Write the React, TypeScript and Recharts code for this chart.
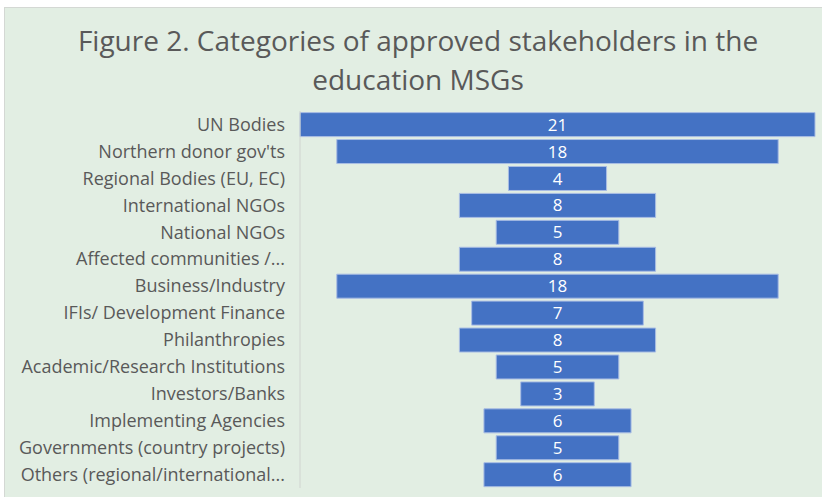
import { BarChart, Bar, XAxis, YAxis, LabelList } from 'recharts';

const categories = [
  'UN Bodies',
  "Northern donor gov'ts",
  'Regional Bodies (EU, EC)',
  'International NGOs',
  'National NGOs',
  'Affected communities /...',
  'Business/Industry',
  'IFIs/ Development Finance',
  'Philanthropies',
  'Academic/Research Institutions',
  'Investors/Banks',
  'Implementing Agencies',
  'Governments (country projects)',
  'Others (regional/international...',
];

const counts = [21, 18, 4, 8, 5, 8, 18, 7, 8, 5, 3, 6, 5, 6];

const maxCount = Math.max(...counts);

// funnel look: an invisible spacer bar pushes each bar to the middle
const data = categories.map((name, i) => ({
  name,
  pad: (maxCount - counts[i]) / 2,
  value: counts[i],
}));

const font = '"Open Sans", "Noto Sans", sans-serif';

export default function App() {
  return (
    <div
      style={{
        position: 'absolute',
        left: 4,
        top: 7,
        width: 818,
        height: 489,
        background: '#e2eee3',
        borderLeft: '1px solid #d4d8d4',
        borderTop: '1px solid #d4d8d4',
        fontFamily: font,
      }}
    >
      <div
        style={{
          position: 'absolute',
          left: 0,
          top: 13,
          width: 826,
          textAlign: 'center',
          fontSize: 28,
          lineHeight: '39px',
          color: '#595959',
        }}
      >
        Figure 2. Categories of approved stakeholders in the
        <br />
        education MSGs
      </div>
      <BarChart
        width={817}
        height={488}
        data={data}
        layout="vertical"
        margin={{ top: 103, right: 7, bottom: 8, left: 0 }}
        barCategoryGap="6%"
      >
        <XAxis type="number" domain={[0, maxCount]} hide />
        <YAxis
          type="category"
          dataKey="name"
          width={295}
          axisLine={{ stroke: '#d0d4d0' }}
          tickLine={false}
          tickSize={0}
          tickMargin={15}
          interval={0}
          tick={{ fill: '#595959', fontSize: 18, fontFamily: font }}
        />
        <Bar dataKey="pad" stackId="a" fill="transparent" isAnimationActive={false} />
        <Bar
          dataKey="value"
          stackId="a"
          fill="#4472c4"
          stroke="#a9bde4"
          strokeWidth={1}
          isAnimationActive={false}
        >
          <LabelList
            dataKey="value"
            position="center"
            fill="#ffffff"
            fontSize={17}
            fontFamily={font}
          />
        </Bar>
      </BarChart>
    </div>
  );
}
